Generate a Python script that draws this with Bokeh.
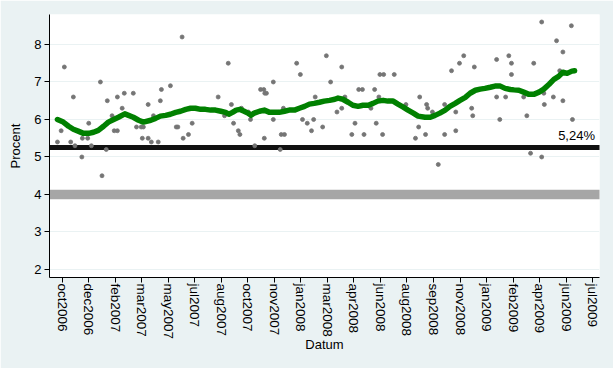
import pandas as pd
from bokeh.plotting import figure
from bokeh.models import FixedTicker, CustomJSTickFormatter, Range1d
from bokeh.core.properties import value
from bokeh.embed import file_html
from bokeh.resources import INLINE

# ---- data ----
poll_dates = [
    "2006-10-16", "2006-10-23", "2006-10-29", "2006-11-10", "2006-11-15", "2006-11-18",
    "2006-12-01", "2006-12-02", "2006-12-12", "2006-12-14", "2006-12-19", "2007-01-05",
    "2007-01-08", "2007-01-16", "2007-01-18", "2007-01-27", "2007-01-31", "2007-02-06",
    "2007-02-06", "2007-02-15", "2007-02-19", "2007-03-08", "2007-03-14", "2007-03-23",
    "2007-03-25", "2007-03-27", "2007-04-05", "2007-04-05", "2007-04-11", "2007-04-15",
    "2007-04-24", "2007-04-28", "2007-04-30", "2007-05-17", "2007-05-28", "2007-05-31",
    "2007-06-08", "2007-06-10", "2007-06-20", "2007-06-27", "2007-08-15", "2007-08-27",
    "2007-09-03", "2007-09-09", "2007-09-13", "2007-09-22", "2007-09-25", "2007-09-28",
    "2007-10-11", "2007-10-15", "2007-10-23", "2007-11-03", "2007-11-09", "2007-11-10",
    "2007-11-11", "2007-11-14", "2007-11-27", "2007-11-27", "2007-12-10", "2007-12-12",
    "2007-12-16", "2007-12-18", "2008-01-10", "2008-01-17", "2008-01-21", "2008-01-30",
    "2008-02-07", "2008-02-11", "2008-02-14", "2008-02-28", "2008-03-06", "2008-03-14",
    "2008-03-26", "2008-04-04", "2008-04-04", "2008-04-10", "2008-04-23", "2008-04-29",
    "2008-05-06", "2008-05-13", "2008-05-16", "2008-05-29", "2008-06-05", "2008-06-08",
    "2008-06-13", "2008-06-15", "2008-06-20", "2008-06-22", "2008-07-12", "2008-08-03",
    "2008-08-21", "2008-08-27", "2008-08-29", "2008-09-09", "2008-09-11", "2008-09-13",
    "2008-09-22", "2008-10-03", "2008-10-15", "2008-10-15", "2008-10-28", "2008-11-05",
    "2008-11-05", "2008-11-12", "2008-11-20", "2008-12-05", "2008-12-07", "2008-12-10",
    "2009-01-21", "2009-01-21", "2009-01-27", "2009-02-07", "2009-02-13", "2009-02-18",
    "2009-02-18", "2009-03-13", "2009-03-19", "2009-03-26", "2009-04-01", "2009-04-16",
    "2009-04-16", "2009-04-20", "2009-04-21", "2009-05-08", "2009-05-14", "2009-05-20",
    "2009-05-26", "2009-05-26", "2009-06-11", "2009-06-13",
]
poll_values = [
    5.4, 5.7, 7.4, 5.4, 6.6, 5.3,
    5.0, 5.5, 5.5, 5.9, 5.3, 7.0,
    4.5, 5.2, 6.5, 6.1, 5.7, 6.6,
    5.7, 6.3, 6.7, 6.7, 5.8, 5.8,
    5.5, 5.8, 6.4, 5.5, 5.4, 6.1,
    5.4, 6.5, 6.8, 6.9, 5.8, 5.8,
    8.2, 5.5, 5.6, 5.9, 6.6, 6.1,
    7.5, 6.4, 5.9, 5.7, 5.6, 6.3,
    6.2, 6.0, 5.3, 6.8, 6.8, 5.5,
    6.7, 6.7, 7.0, 6.0, 5.2, 5.6,
    6.3, 5.6, 7.5, 7.2, 6.0, 5.9,
    5.7, 6.0, 6.6, 5.8, 7.7, 7.0,
    6.2, 7.4, 6.3, 6.6, 5.6, 5.9,
    6.8, 6.8, 5.6, 6.3, 6.8, 5.9,
    6.6, 7.2, 5.6, 7.2, 7.2, 6.4,
    5.5, 5.8, 6.6, 5.6, 6.4, 6.3,
    6.2, 4.8, 5.6, 6.4, 7.3, 6.2,
    5.7, 7.5, 7.7, 6.3, 6.1, 7.4,
    7.6, 6.6, 6.0, 6.6, 7.7, 7.5,
    7.2, 6.6, 6.1, 5.1, 7.5, 8.6,
    5.0, 6.7, 6.4, 6.6, 8.1, 7.3,
    7.8, 6.5, 8.5, 6.0,
]

trend_dates = [
    "2006-10-16", "2006-10-27", "2006-11-06", "2006-11-15", "2006-11-24", "2006-12-04",
    "2006-12-14", "2006-12-23", "2007-01-01", "2007-01-11", "2007-01-20", "2007-01-30",
    "2007-02-08", "2007-02-20", "2007-02-27", "2007-03-08", "2007-03-18", "2007-03-27",
    "2007-04-10", "2007-04-19", "2007-04-28", "2007-05-08", "2007-05-17", "2007-05-27",
    "2007-06-05", "2007-06-15", "2007-06-24", "2007-07-03", "2007-07-13", "2007-07-22",
    "2007-08-01", "2007-08-10", "2007-08-20", "2007-08-29", "2007-09-04", "2007-09-11",
    "2007-09-18", "2007-09-25", "2007-10-03", "2007-10-10", "2007-10-16", "2007-10-22",
    "2007-11-01", "2007-11-10", "2007-11-20", "2007-11-29", "2007-12-08", "2007-12-18",
    "2007-12-27", "2008-01-06", "2008-01-15", "2008-01-25", "2008-02-03", "2008-02-12",
    "2008-02-22", "2008-03-02", "2008-03-12", "2008-03-22", "2008-03-28", "2008-04-06",
    "2008-04-16", "2008-04-25", "2008-05-05", "2008-05-14", "2008-05-24", "2008-06-02",
    "2008-06-11", "2008-06-21", "2008-06-30", "2008-07-10", "2008-07-19", "2008-07-29",
    "2008-08-07", "2008-08-17", "2008-08-26", "2008-09-08", "2008-09-18", "2008-09-27",
    "2008-10-06", "2008-10-16", "2008-10-25", "2008-11-04", "2008-11-13", "2008-11-23",
    "2008-12-02", "2008-12-12", "2008-12-21", "2008-12-30", "2009-01-09", "2009-01-18",
    "2009-01-28", "2009-02-06", "2009-02-16", "2009-02-23", "2009-03-04", "2009-03-13",
    "2009-03-23", "2009-04-01", "2009-04-11", "2009-04-20", "2009-04-30", "2009-05-09",
    "2009-05-18", "2009-05-26", "2009-06-03", "2009-06-12", "2009-06-17",
]
trend_values = [
    6.00, 5.93, 5.82, 5.74, 5.69, 5.63,
    5.63, 5.66, 5.71, 5.82, 5.93, 6.00,
    6.06, 6.15, 6.11, 6.06, 5.98, 5.93,
    5.98, 6.03, 6.09, 6.11, 6.14, 6.19,
    6.22, 6.27, 6.30, 6.30, 6.27, 6.27,
    6.25, 6.25, 6.22, 6.19, 6.14, 6.19,
    6.25, 6.27, 6.22, 6.17, 6.11, 6.17,
    6.22, 6.25, 6.19, 6.19, 6.19, 6.22,
    6.25, 6.25, 6.30, 6.35, 6.41, 6.43,
    6.46, 6.49, 6.51, 6.54, 6.57, 6.54,
    6.46, 6.38, 6.35, 6.38, 6.38, 6.43,
    6.49, 6.51, 6.49, 6.49, 6.41, 6.33,
    6.25, 6.17, 6.09, 6.06, 6.06, 6.11,
    6.17, 6.25, 6.35, 6.43, 6.51, 6.59,
    6.70, 6.78, 6.81, 6.83, 6.86, 6.89,
    6.89, 6.83, 6.80, 6.79, 6.78, 6.73,
    6.67, 6.67, 6.73, 6.81, 6.94, 7.07,
    7.15, 7.26, 7.23, 7.29, 7.30,
]

tick_dates = [
    "2006-10-25", "2006-12-14", "2007-02-02", "2007-03-24", "2007-05-13", "2007-07-02",
    "2007-08-21", "2007-10-10", "2007-11-29", "2008-01-18", "2008-03-08", "2008-04-27",
    "2008-06-16", "2008-08-05", "2008-09-24", "2008-11-13", "2009-01-02", "2009-02-21",
    "2009-04-12", "2009-06-01", "2009-07-21",
]
tick_labels = [
    "oct2006", "dec2006", "feb2007", "mar2007", "may2007", "jul2007",
    "aug2007", "oct2007", "nov2007", "jan2008", "mar2008", "apr2008",
    "jun2008", "aug2008", "sep2008", "nov2008", "jan2009", "feb2009",
    "apr2009", "jun2009", "jul2009",
]
y_ticks = [2, 3, 4, 5, 6, 7, 8]
reference_level = 5.24
reference_text = "5,24%"
lower_level = 4.0

# ---- styling constants ----
FONT = "Liberation Sans"
BG = "#EAF2F3"

poll_x = pd.to_datetime(poll_dates)
trend_x = pd.to_datetime(trend_dates)
tick_ms = [pd.Timestamp(d).value / 1e6 for d in tick_dates]

p = figure(
    width=613, height=368,
    x_axis_type="datetime",
    x_range=Range1d(pd.Timestamp("2006-10-01"), pd.Timestamp("2009-08-03")),
    y_range=Range1d(1.786, 8.80),
    output_backend="svg", toolbar_location=None,
    background_fill_color="white", border_fill_color=BG,
)
p.min_border_left = 49
p.min_border_right = 14
p.min_border_top = 14
p.min_border_bottom = 91
p.outline_line_color = None

# grid
p.xgrid.visible = False
p.ygrid.ticker = FixedTicker(ticks=y_ticks)
p.ygrid.grid_line_color = BG
p.ygrid.grid_line_width = 1

# reference lines
p.hspan(y=[lower_level], line_color="#A6A6A6", line_width=9.5, line_cap="round")
p.hspan(y=[reference_level], line_color="#111111", line_width=5, line_cap="round")

# polls
p.scatter(poll_x, poll_values, marker="circle", size=4, fill_color="#757575",
          line_color="#757575", line_width=0.8)

# trend
p.line(trend_x, trend_values, line_color="#008000", line_width=5.5,
       line_join="round", line_cap="round")

# label
p.text(x=[pd.Timestamp("2009-05-17")], y=[5.57], text=[reference_text],
       text_font=value(FONT), text_font_size="13px", text_color="black",
       text_align="left", text_baseline="alphabetic")

# axes
xa = p.xaxis[0]
xa.ticker = FixedTicker(ticks=tick_ms)
xa.formatter = CustomJSTickFormatter(
    args=dict(vals=tick_ms, labels=tick_labels),
    code="""
    for (let j = 0; j < vals.length; j++) {
        if (Math.abs(vals[j] - tick) < 1000) { return labels[j]; }
    }
    return "";
    """,
)
xa.major_label_orientation = "vertical"
xa.axis_label = "Datum"

ya = p.yaxis[0]
ya.ticker = FixedTicker(ticks=y_ticks)
ya.axis_label = "Procent"

for ax in (xa, ya):
    ax.axis_line_color = "black"
    ax.axis_line_width = 1
    ax.major_tick_line_color = "black"
    ax.major_tick_out = 5
    ax.major_tick_in = 0
    ax.minor_tick_line_color = None
    ax.major_label_text_font = FONT
    ax.major_label_text_color = "black"
    ax.axis_label_text_font = FONT
    ax.axis_label_text_font_style = "normal"
    ax.axis_label_text_font_size = "13px"
    ax.axis_label_text_color = "black"

xa.major_label_text_font_size = "13.5px"
xa.major_label_standoff = 1
xa.axis_label_standoff = -5
ya.major_label_text_font_size = "13px"
ya.major_label_standoff = 3
ya.axis_label_standoff = 8

open("out.html", "w").write(file_html(p, INLINE))
